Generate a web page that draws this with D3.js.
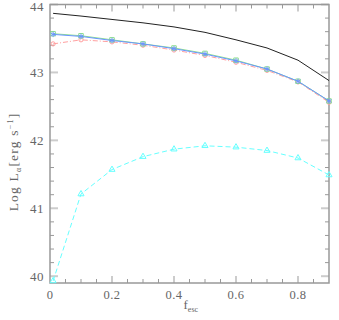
<!DOCTYPE html>
<html>
<head>
<meta charset="utf-8">
<script src="https://cdn.jsdelivr.net/npm/d3@7"></script>
<style>
  body { margin: 0; background: #fff; }
  text { font-family: "Liberation Serif", serif; fill: #666; }
</style>
</head>
<body>
<svg width="339" height="320"></svg>
<script>
var fesc = [0.01, 0.1, 0.2, 0.3, 0.4, 0.5, 0.6, 0.7, 0.8, 0.9];

var lumBlack = [43.87, 43.83, 43.78, 43.73, 43.67, 43.59, 43.48, 43.36, 43.18, 42.88];
var lumGreen = [43.57, 43.54, 43.48, 43.42, 43.36, 43.28, 43.18, 43.05, 42.87, 42.58];
var lumBlue  = [43.56, 43.53, 43.47, 43.42, 43.35, 43.27, 43.17, 43.05, 42.87, 42.58];
var lumRed   = [43.42, 43.48, 43.45, 43.40, 43.33, 43.25, 43.15, 43.03, 42.86, 42.56];
var lumCyan  = [39.93, 41.21, 41.57, 41.76, 41.87, 41.92, 41.90, 41.85, 41.74, 41.49];

var xTicks = [0, 0.2, 0.4, 0.6, 0.8];
var yTicks = [40, 41, 42, 43, 44];

var svg = d3.select("svg"),
  width = +svg.attr("width"),
  height = +svg.attr("height");

var margin = {top: 4.5, right: 10, bottom: 37, left: 50};
var x0 = margin.left, x1 = width - margin.right,
  y0 = height - margin.bottom, y1 = margin.top;

var x = d3.scaleLinear().domain([0, 0.9]).range([x0, x1]);
var y = d3.scaleLinear().domain([39.9, 44]).range([y0, y1]);

// ticks (pgplot style: inward on all four sides)
var g = svg.append("g");
var minorX = d3.range(0.05, 0.9, 0.05).filter(function(v) { return Math.abs(v / 0.2 - Math.round(v / 0.2)) > 0.01; });
var minorY = d3.range(40, 44, 0.2).filter(function(v) { return Math.abs(v - Math.round(v)) > 0.01; });

[y0, y1].forEach(function(base) {
  var dir = base === y0 ? -1 : 1;
  g.selectAll(null).data(minorX).enter().append("line")
    .attr("x1", function(d) { return x(d); }).attr("x2", function(d) { return x(d); })
    .attr("y1", base).attr("y2", base + dir * 4)
    .attr("stroke", "#999").attr("stroke-width", 1);
  g.selectAll(null).data(xTicks.slice(1)).enter().append("line")
    .attr("x1", function(d) { return x(d); }).attr("x2", function(d) { return x(d); })
    .attr("y1", base).attr("y2", base + dir * 7)
    .attr("stroke", "#aaa").attr("stroke-width", 1.2);
});
[x0, x1].forEach(function(base) {
  var dir = base === x0 ? 1 : -1;
  g.selectAll(null).data(minorY).enter().append("line")
    .attr("y1", function(d) { return y(d); }).attr("y2", function(d) { return y(d); })
    .attr("x1", base).attr("x2", base + dir * 4)
    .attr("stroke", "#999").attr("stroke-width", 1);
  g.selectAll(null).data(yTicks).enter().append("line")
    .attr("y1", function(d) { return y(d); }).attr("y2", function(d) { return y(d); })
    .attr("x1", base).attr("x2", base + dir * 8)
    .attr("stroke", "#ccc").attr("stroke-width", 2);
});

svg.append("rect")
  .attr("x", x0).attr("y", y1)
  .attr("width", x1 - x0).attr("height", y0 - y1)
  .attr("fill", "none").attr("stroke", "#999").attr("stroke-width", 1.5);

// tick labels
svg.append("g").selectAll("text").data(xTicks).enter().append("text")
  .attr("x", function(d) { return x(d); })
  .attr("y", y0 + 16)
  .attr("text-anchor", "middle")
  .attr("font-size", 12.5)
  .attr("letter-spacing", 0.5)
  .text(function(d) { return d === 0 ? "0" : d3.format(".1f")(d); });

svg.append("g").selectAll("text").data(yTicks).enter().append("text")
  .attr("x", x0 - 6)
  .attr("y", function(d) { return Math.max(y(d) + 4.5, 11); })
  .attr("text-anchor", "end")
  .attr("font-size", 13)
  .attr("letter-spacing", 0.5)
  .text(function(d) { return d; });

// axis titles
var xt = svg.append("text")
  .attr("x", x((0.9) / 2) - 6).attr("y", 309)
  .attr("font-size", 13);
xt.append("tspan").text("f");
xt.append("tspan").attr("font-size", 8).attr("dy", 3).text("esc");

var yt = svg.append("text")
  .attr("transform", "translate(18,162) rotate(-90)")
  .attr("text-anchor", "middle")
  .attr("font-size", 13.5)
  .attr("letter-spacing", 1.2);
yt.append("tspan").text("Log L");
yt.append("tspan").attr("font-size", 8).attr("dy", 3).text("α");
yt.append("tspan").attr("dy", -3).text("[erg s");
yt.append("tspan").attr("font-size", 8).attr("dy", -5).text("−1");
yt.append("tspan").attr("dy", 5).text("]");

// series
var series = [
  {vals: lumCyan, color: "#66ffff", dash: "5,3", marker: "triangle"},
  {vals: lumRed, color: "#ffa0a0", dash: "5,2,1,2", marker: "circle"},
  {vals: lumGreen, color: "#8ee08e", dash: null, marker: "square"},
  {vals: lumBlue, color: "#6a95ff", dash: null, marker: "asterisk"},
  {vals: lumBlack, color: "#222", dash: null, marker: null}
];

var line = d3.line()
  .x(function(d, i) { return x(fesc[i]); })
  .y(function(d) { return y(d); });

var symbols = {
  triangle: d3.symbol().type(d3.symbolTriangle).size(16),
  circle: d3.symbol().type(d3.symbolCircle).size(14),
  square: d3.symbol().type(d3.symbolSquare).size(20),
  asterisk: d3.symbol().type(d3.symbolAsterisk).size(20)
};

var plot = svg.append("g");
series.forEach(function(s) {
  plot.append("path")
    .attr("d", line(s.vals))
    .attr("fill", "none")
    .attr("stroke", s.color)
    .attr("stroke-width", 1)
    .attr("stroke-dasharray", s.dash);
  if (s.marker) {
    plot.selectAll(null).data(s.vals).enter().append("path")
      .attr("transform", function(d, i) { return "translate(" + x(fesc[i]) + "," + y(d) + ")"; })
      .attr("d", symbols[s.marker])
      .attr("fill", "none")
      .attr("stroke", s.color)
      .attr("stroke-width", 1);
  }
});
</script>
</body>
</html>
